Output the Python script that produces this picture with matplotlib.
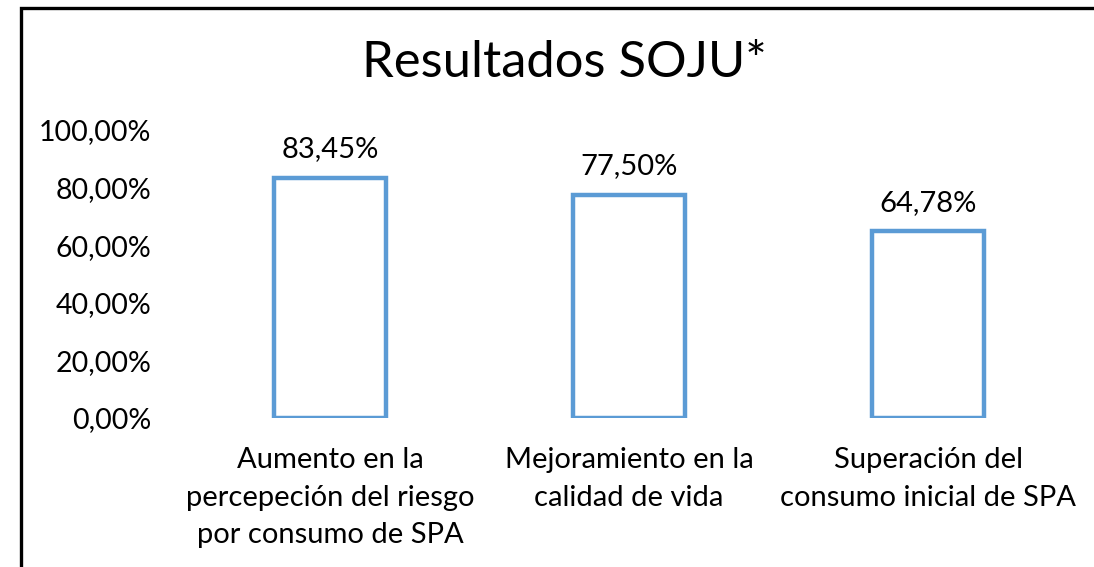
import matplotlib.pyplot as plt
from matplotlib.patches import Rectangle

# datos
categorias = ["Aumento en la\npercepeción del riesgo\npor consumo de SPA",
              "Mejoramiento en la\ncalidad de vida",
              "Superación del\nconsumo inicial de SPA"]
valores = [83.45, 77.50, 64.78]
yticks = [0, 20, 40, 60, 80, 100]

plt.rcParams['font.family'] = ['Lato', 'DejaVu Sans']

W, H = 1094, 567
fig = plt.figure(figsize=(W / 100, H / 100), dpi=100)
ax = fig.add_axes([180.5 / W, 1 - 418 / H, 897 / W, 288 / H])

x = range(len(valores))
ax.bar(x, valores, width=0.375, color='white', edgecolor='#5B9BD5', linewidth=3.2)
for i, v in zip(x, valores):
    ax.text(i, v + 5.5, f"{v:.2f}%".replace('.', ','), ha='center', va='bottom', fontsize=21)

ax.set_xlim(-0.5, 2.5)
ax.set_ylim(0, 100)
ax.set_yticks(yticks)
ax.set_yticklabels([f"{t:.2f}%".replace('.', ',') for t in yticks], fontsize=20.5)
ax.set_xticks(list(x))
ax.set_xticklabels(categorias, fontsize=21, linespacing=1.55, va='top')
ax.tick_params(axis='y', length=0, pad=21)
ax.tick_params(axis='x', length=0, pad=21)
for s in ax.spines.values():
    s.set_visible(False)

fig.text(564 / W, 1 - 63 / H, "Resultados SOJU*", ha='center', va='center', fontsize=36.5)

# marco del gráfico
fig.patches.append(Rectangle((21 / W, -0.1), 1.2, 1 - 8 / H + 0.1, transform=fig.transFigure,
                             fill=False, edgecolor='black', linewidth=2.4))

fig.savefig('out.png', dpi=100)
